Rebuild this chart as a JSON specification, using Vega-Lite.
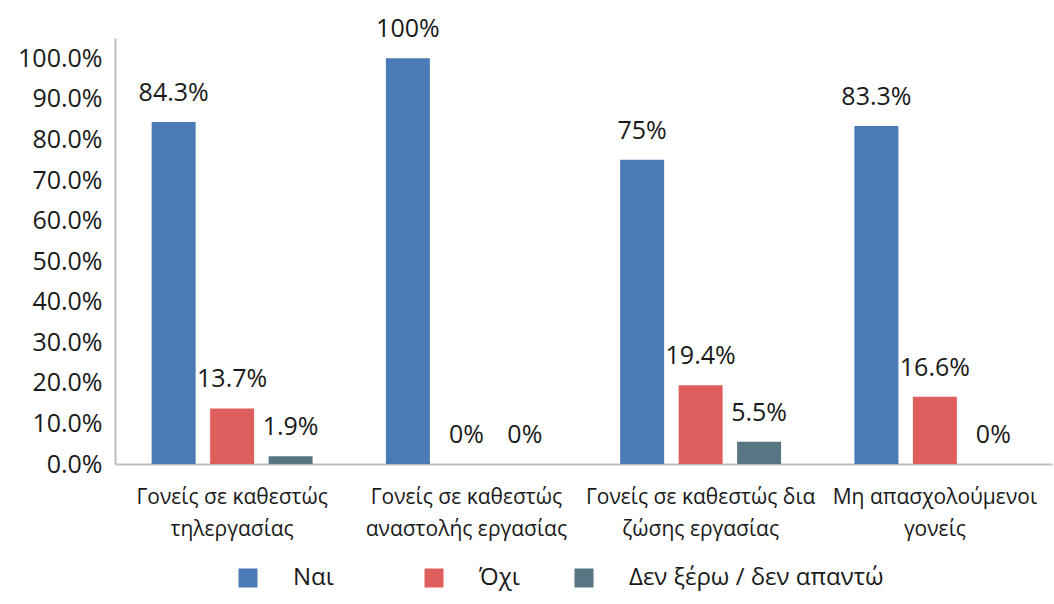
{
  "$schema": "https://vega.github.io/schema/vega-lite/v6.json",
  "width": 937,
  "height": 426,
  "autosize": "none",
  "padding": {"left": 115, "top": 38, "right": 2, "bottom": 140},
  "background": "white",
  "config": {
    "view": {"stroke": null},
    "font": "Open Sans",
    "text": {"font": "Open Sans"}
  },
  "data": {
    "values": [
      {"group": "Γονείς σε καθεστώς|τηλεργασίας", "series": "Ναι", "value": 0.843, "label": "84.3%"},
      {"group": "Γονείς σε καθεστώς|τηλεργασίας", "series": "Όχι", "value": 0.137, "label": "13.7%"},
      {"group": "Γονείς σε καθεστώς|τηλεργασίας", "series": "Δεν ξέρω / δεν απαντώ", "value": 0.019, "label": "1.9%"},
      {"group": "Γονείς σε καθεστώς|αναστολής εργασίας", "series": "Ναι", "value": 1.0, "label": "100%"},
      {"group": "Γονείς σε καθεστώς|αναστολής εργασίας", "series": "Όχι", "value": 0, "label": "0%"},
      {"group": "Γονείς σε καθεστώς|αναστολής εργασίας", "series": "Δεν ξέρω / δεν απαντώ", "value": 0, "label": "0%"},
      {"group": "Γονείς σε καθεστώς δια|ζώσης εργασίας", "series": "Ναι", "value": 0.75, "label": "75%"},
      {"group": "Γονείς σε καθεστώς δια|ζώσης εργασίας", "series": "Όχι", "value": 0.194, "label": "19.4%"},
      {"group": "Γονείς σε καθεστώς δια|ζώσης εργασίας", "series": "Δεν ξέρω / δεν απαντώ", "value": 0.055, "label": "5.5%"},
      {"group": "Μη απασχολούμενοι|γονείς", "series": "Ναι", "value": 0.833, "label": "83.3%"},
      {"group": "Μη απασχολούμενοι|γονείς", "series": "Όχι", "value": 0.166, "label": "16.6%"},
      {"group": "Μη απασχολούμενοι|γονείς", "series": "Δεν ξέρω / δεν απαντώ", "value": 0, "label": "0%"}
    ]
  },
  "encoding": {
    "x": {
      "field": "group", "type": "nominal", "sort": null,
      "scale": {"paddingInner": 0, "paddingOuter": 0},
      "axis": {
        "title": null, "labelAngle": 0, "ticks": false,
        "labelExpr": "split(datum.label, '|')", "labelLimit": 0,
        "labelFont": "Open Sans", "labelFontSize": 21, "labelColor": "#1a1a1a",
        "labelLineHeight": 32, "labelPadding": 22, "labelBaseline": "top",
        "domainColor": "#BDBDBD", "domainWidth": 2
      }
    },
    "xOffset": {
      "field": "series", "type": "nominal",
      "sort": ["Ναι", "Όχι", "Δεν ξέρω / δεν απαντώ"],
      "scale": {"paddingInner": 0.248, "paddingOuter": 0.627}
    },
    "y": {
      "field": "value", "type": "quantitative",
      "scale": {"domain": [0, 1.05], "nice": false},
      "axis": {
        "title": null, "values": [0, 0.1, 0.2, 0.3, 0.4, 0.5, 0.6, 0.7, 0.8, 0.9, 1.0],
        "format": ".1%", "grid": false, "ticks": false,
        "labelFont": "Open Sans", "labelFontSize": 25, "labelColor": "#1a1a1a",
        "labelPadding": 13,
        "domainColor": "#BDBDBD", "domainWidth": 2
      }
    }
  },
  "layer": [
    {
      "mark": {"type": "bar"},
      "encoding": {
        "color": {
          "field": "series", "type": "nominal",
          "scale": {"domain": ["Ναι", "Όχι", "Δεν ξέρω / δεν απαντώ"], "range": ["#4A7BB7", "#DE5E5B", "#587584"]},
          "legend": {
            "title": null, "orient": "none", "direction": "horizontal",
            "legendX": 121, "legendY": 528, "padding": 0,
            "symbolType": "square", "symbolSize": 361, "symbolStrokeWidth": 0,
            "labelOffset": 33, "columnPadding": 52, "labelLimit": 0,
            "labelFont": "Open Sans", "labelFontSize": 24, "labelColor": "#1a1a1a",
            "labelExpr": "datum.label == 'Ναι' ? 'Ναι\\u2002\\u2002\\u2002\\u200b' : datum.label"
          }
        }
      }
    },
    {
      "mark": {"type": "text", "dy": -21, "baseline": "alphabetic", "fontSize": 25, "font": "Open Sans", "color": "#1a1a1a"},
      "encoding": {
        "text": {"field": "label", "type": "nominal"}
      }
    }
  ]
}
